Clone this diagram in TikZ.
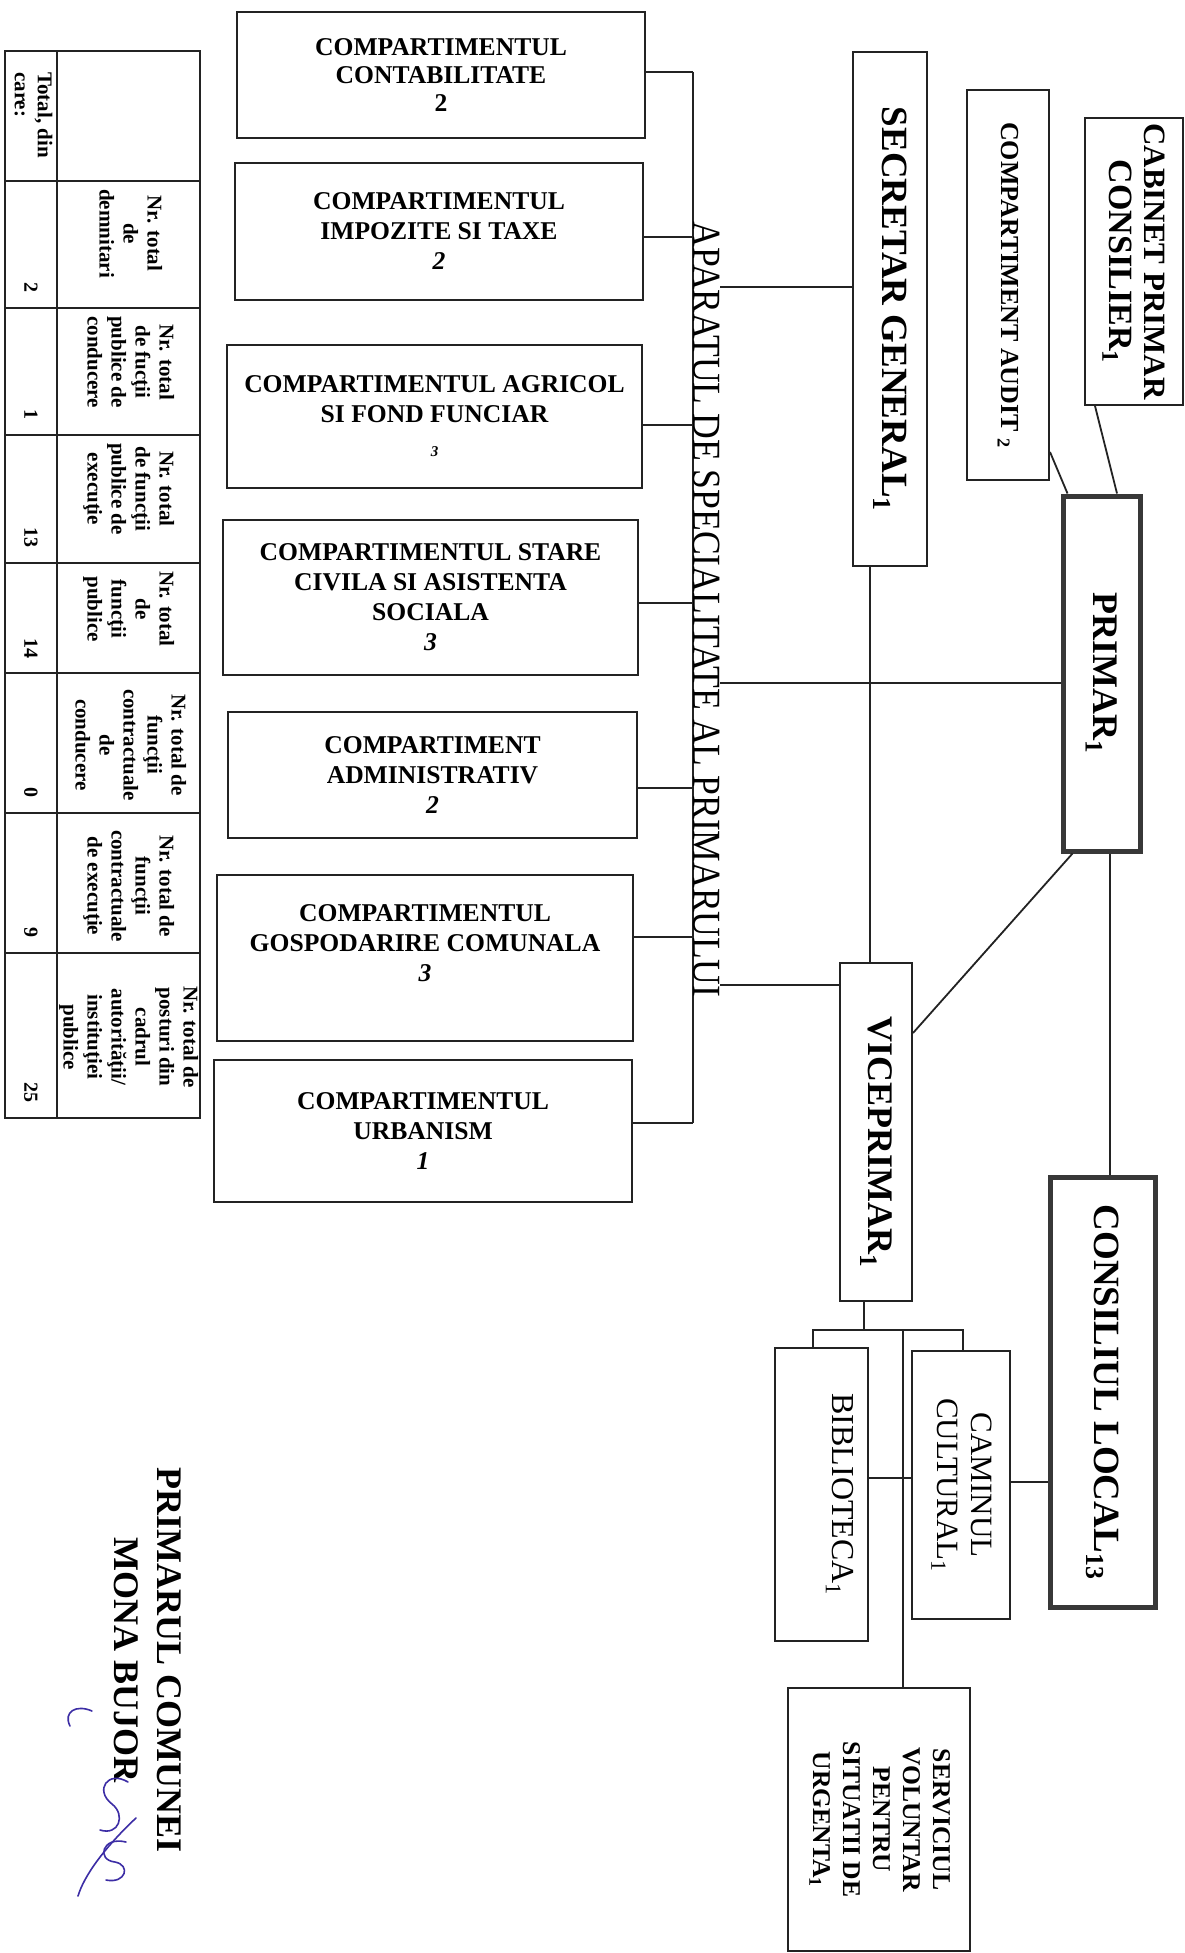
\documentclass[tikz,border=0pt]{standalone}
\usepackage{fontspec}
\setmainfont{Liberation Serif}
\usepackage{graphicx}
\newcommand{\fsz}[2]{\fontsize{#1}{#2}\selectfont}
\newcommand{\rot}[1]{\rotatebox{-90}{#1}}
\definecolor{ink}{RGB}{35,35,35}
\definecolor{sigblue}{RGB}{60,45,165}
\tikzset{
 ln/.style={draw=ink, line width=1.8pt},
 box/.style={draw=ink, line width=2pt, fill=white, inner sep=0pt, align=center},
 heavybox/.style={box, line width=5pt, draw=black!78},
 lbox/.style={box, font=\bfseries\fsz{25.6}{30}},
 cell/.style={inner sep=0pt},
 sig/.style={draw=sigblue, line width=1.6pt, line cap=round, line join=round},
}
\newcommand{\hd}[1]{\rot{\fsz{21}{24}\bfseries\begin{tabular}{@{}c@{}}#1\end{tabular}}}
\newcommand{\nm}[1]{\rot{\fsz{20}{20}\bfseries #1}}
\begin{document}
\begin{tikzpicture}[x=1pt,y=-1pt]
\useasboundingbox[fill=white] (0,0) rectangle (1184,1953);

% ---------------- table
\draw[ln,line width=1.6pt] (5,51) rectangle (200,1118);
\draw[ln,line width=1.6pt] (57,51) -- (57,1118);
\foreach \yy in {181,308,435,563,673,813,953} \draw[ln,line width=1.6pt] (5,\yy) -- (200,\yy);

\node[cell,anchor=north] (tot) at (31,72) {\rot{\fsz{21}{23}\bfseries\begin{tabular}{@{}l@{}}Total, din\\care:\end{tabular}}};
\node[cell,anchor=south] (v2) at (31,293) {\nm{2}};
\node[cell,anchor=south] (v1) at (31,420) {\nm{1}};
\node[cell,anchor=south] (v13) at (31,548) {\nm{13}};
\node[cell,anchor=south] (v14) at (31,659) {\nm{14}};
\node[cell,anchor=south] (v0) at (31,798) {\nm{0}};
\node[cell,anchor=south] (v9) at (31,938) {\nm{9}};
\node[cell,anchor=south] (v25) at (31,1103) {\nm{25}};

\node[cell,anchor=north] (h2) at (128.5,189) {\hd{Nr. total\\de\\demnitari}};
\node[cell,anchor=north] (h3) at (128.5,316) {\hd{Nr. total\\de fucţii\\publice de\\conducere}};
\node[cell,anchor=north] (h4) at (128.5,443) {\hd{Nr. total\\de funcţii\\publice de\\execuţie}};
\node[cell,anchor=north] (h5) at (128.5,571) {\hd{Nr. total\\de\\funcţii\\publice}};
\node[cell] (h6) at (128.5,745) {\hd{Nr. total de\\funcţii\\contractuale\\de\\conducere}};
\node[cell] (h7) at (128.5,886) {\hd{Nr. total de\\funcţii\\contractuale\\de execuţie}};
\node[cell] (h8) at (128.5,1037) {\hd{Nr. total de\\posturi din\\cadrul\\autorităţii/\\instituţiei\\publice}};

% ---------------- left boxes
\node[lbox, minimum width=408pt, minimum height=126pt, font=\bfseries\fsz{25.6}{28}] (contab) at (441,75) {COMPARTIMENTUL\\CONTABILITATE\\2};
\node[lbox, minimum width=408pt, minimum height=137pt] (impoz) at (439,231.5) {COMPARTIMENTUL\\IMPOZITE SI TAXE\\\textit{2}};
\node[lbox, minimum width=415pt, minimum height=143pt] (agric) at (434.5,416.5) {COMPARTIMENTUL AGRICOL\\SI FOND FUNCIAR\\[4pt]{\fsz{15}{15}\textit{3}}};
\node[lbox, minimum width=415pt, minimum height=155pt] (stare) at (430.5,597.5) {COMPARTIMENTUL STARE\\CIVILA SI ASISTENTA\\SOCIALA\\\textit{3}};
\node[lbox, minimum width=409pt, minimum height=126pt] (admin) at (432.5,775) {COMPARTIMENT\\ADMINISTRATIV\\\textit{2}};
\node[lbox, minimum width=416pt, minimum height=166pt] (gospod) at (425,958) {COMPARTIMENTUL\\GOSPODARIRE COMUNALA\\\textit{3}\\\mbox{}};
\node[lbox, minimum width=418pt, minimum height=142pt] (urban) at (423,1131) {COMPARTIMENTUL\\URBANISM\\\textit{1}};

% ---------------- bus
\coordinate (busT) at (693,72);
\coordinate (busB) at (693,1123);
\draw[ln] (busT) -- (busB);
\node[cell,anchor=west] (aparat) at (693,609.5) {\rot{\fsz{40}{40}\scalebox{0.89}[1]{APARATUL DE SPECIALITATE AL PRIMARULUI}}};

\draw[ln] ([yshift=3pt]contab.east) -- ([yshift=3pt]contab.east -| busT);
\draw[ln] ([yshift=-5.5pt]impoz.east) -- ([yshift=-5.5pt]impoz.east -| busT);
\draw[ln] ([yshift=-8.5pt]agric.east) -- ([yshift=-8.5pt]agric.east -| busT);
\draw[ln] ([yshift=-5.5pt]stare.east) -- ([yshift=-5.5pt]stare.east -| busT);
\draw[ln] ([yshift=-13pt]admin.east) -- ([yshift=-13pt]admin.east -| busT);
\draw[ln] ([yshift=21pt]gospod.east) -- ([yshift=21pt]gospod.east -| busT);
\draw[ln] ([yshift=8pt]urban.east) -- ([yshift=8pt]urban.east -| busT);

% ---------------- right boxes
\node[box, minimum width=74pt, minimum height=514pt] (secretar) at (890,309) {\rot{\fsz{37}{40}\bfseries SECRETAR GENERAL\textsubscript{1}}};
\node[box, minimum width=82pt, minimum height=390pt] (audit) at (1008,285) {\rot{\fsz{26}{30}\bfseries COMPARTIMENT AUDIT \textsubscript{2}}};
\node[box, minimum width=98pt, minimum height=287pt] (cabinet) at (1134,261.5) {\rot{\bfseries\fsz{31}{35}\begin{tabular}{@{}c@{}}\fsz{31}{35}CABINET PRIMAR\\\fsz{34}{36}CONSILIER\textsubscript{1}\end{tabular}}};
\node[heavybox, minimum width=77pt, minimum height=355pt] (primar) at (1101.5,673.5) {\rot{\fsz{36}{40}\bfseries PRIMAR\textsubscript{1}}};
\node[box, minimum width=72pt, minimum height=338pt] (vice) at (876,1132) {\rot{\fsz{36}{40}\bfseries\hspace*{20pt}VICEPRIMAR\textsubscript{1}}};
\node[heavybox, minimum width=105pt, minimum height=430pt] (consiliul) at (1102.5,1392) {\rot{\fsz{37}{40}\bfseries CONSILIUL LOCAL\textsubscript{13}}};
\node[box, minimum width=98pt, minimum height=268pt] (caminul) at (961,1485) {\rot{\fsz{31}{34}\begin{tabular}{@{}c@{}}CAMINUL\\CULTURAL\textsubscript{1}\end{tabular}}};
\node[box, minimum width=93pt, minimum height=293pt] (biblio) at (821.5,1494.5) {\rot{\fsz{32}{34}\raisebox{18pt}[\height][\depth]{BIBLIOTECA\textsubscript{1}}}};
\node[box, minimum width=182pt, minimum height=263pt] (servic) at (879,1819.5) {\rot{\fsz{25.6}{30}\bfseries\begin{tabular}{@{}c@{}}SERVICIUL\\VOLUNTAR\\PENTRU\\SITUATII DE\\URGENTA\textsubscript{1}\end{tabular}}};

% ---------------- right connectors
\draw[ln] ([yshift=22pt]secretar.west) -- ([yshift=22pt]secretar.west -| aparat.east);
\draw[ln] ([yshift=-9.5pt]primar.west) -- ([yshift=-9.5pt]primar.west -| aparat.east);
\draw[ln] ([yshift=147pt]vice.west) -- ([yshift=147pt]vice.west -| aparat.east);
\draw[ln] ([xshift=-20pt]secretar.south) -- ([xshift=-20pt]secretar.south |- vice.north);
\draw[ln] ([xshift=-39pt]cabinet.south) -- ([xshift=15.5pt]primar.north);
\draw[ln] ([yshift=-167pt]audit.east) -- ([xshift=7pt]primar.north west);
\draw[ln] ([xshift=12pt]primar.south west) -- ([yshift=99pt]vice.east);
\draw[ln] ([xshift=8.5pt]primar.south) -- ([xshift=8.5pt]primar.south |- consiliul.north);
\coordinate (sp) at (864,1330);
\coordinate (cx) at (903,1330);
\draw[ln] ([xshift=-12pt]vice.south) -- ([xshift=-12pt]vice.south |- sp);
\draw[ln] ([xshift=-8.5pt]biblio.north) |- (sp) -| ([xshift=2pt]caminul.north);
\draw[ln] (cx) -- (cx |- servic.north);
\draw[ln] ([yshift=16.5pt]biblio.east) -- ([yshift=16.5pt]biblio.east -| caminul.west);
\draw[ln] ([yshift=3pt]caminul.east) -- ([yshift=3pt]caminul.east -| consiliul.west);

% ---------------- signature block
\node[cell] (semn) at (145,1660) {\rot{\fsz{36}{43}\bfseries\begin{tabular}{@{}c@{}}PRIMARUL COMUNEI\\MONA BUJOR\end{tabular}}};
\draw[sig] (92,1711) .. controls (76,1704) and (63,1712) .. (70,1726);
\draw[sig] (128,1782) .. controls (108,1770) and (94,1790) .. (112,1804) .. controls (126,1815) and (119,1836) .. (100,1830);
\draw[sig] (126,1842) .. controls (102,1836) and (96,1860) .. (115,1862) .. controls (131,1865) and (126,1884) .. (106,1880);
\draw[sig] (136,1818) .. controls (104,1848) and (84,1876) .. (78,1896);
\end{tikzpicture}
\end{document}
